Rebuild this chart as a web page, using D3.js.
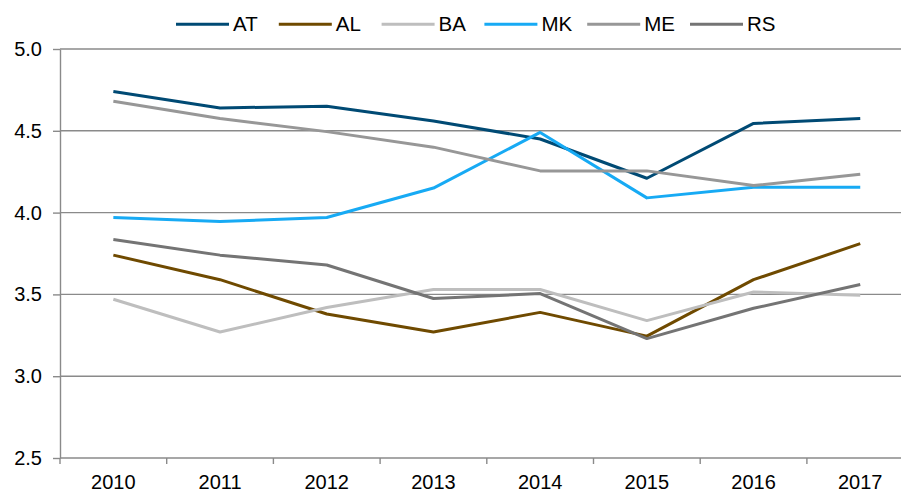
<!DOCTYPE html>
<html><head><meta charset="utf-8">
<script src="https://cdn.jsdelivr.net/npm/d3@7"></script>
<style>body{margin:0;background:#fff;}svg{display:block;font-family:Arial,"Liberation Sans",sans-serif;}</style>
</head><body><svg id="c" width="901" height="490"></svg>
<script>
const years = ["2010","2011","2012","2013","2014","2015","2016","2017"];
const seriesNames = ["AT","AL","BA","MK","ME","RS"];
const seriesColors = ["#004A74","#6F4A00","#BEBEBE","#17AAF4","#979797","#747474"];
const AT = [4.74,4.64,4.65,4.56,4.45,4.21,4.545,4.575];
const AL = [3.74,3.59,3.38,3.27,3.39,3.245,3.59,3.81];
const BA = [3.47,3.27,3.42,3.53,3.53,3.34,3.515,3.495];
const MK = [3.97,3.945,3.97,4.15,4.49,4.09,4.155,4.155];
const ME = [4.68,4.575,4.495,4.40,4.255,4.255,4.165,4.235];
const RS = [3.835,3.74,3.68,3.475,3.505,3.23,3.415,3.56];
const yTicks = [2.5,3.0,3.5,4.0,4.5,5.0];
const allValues = [AT,AL,BA,MK,ME,RS];

const svg = d3.select("#c");
const x = d3.scaleBand().domain(years).range([60, 913.6]);
const y = d3.scaleLinear().domain([2.5,5.0]).range([458,49]);
const gridColor = "#8a8a8a";
const font = "Arial, 'Liberation Sans', sans-serif";

// gridlines
svg.append("g").selectAll("line").data(yTicks).join("line")
  .attr("x1",60).attr("x2",901).attr("y1",d=>y(d)).attr("y2",d=>y(d))
  .attr("stroke",gridColor).attr("stroke-width",1.4);

// y axis
const yAxis = svg.append("g").attr("transform","translate(60,0)")
  .call(d3.axisLeft(y).tickValues(yTicks).tickFormat(d3.format(".1f")).tickSizeOuter(0).tickSizeInner(7).tickPadding(11));
yAxis.select(".domain").attr("stroke",gridColor).attr("stroke-width",1.4);
yAxis.selectAll(".tick line").attr("stroke",gridColor).attr("stroke-width",1.4);
yAxis.selectAll("text").attr("font-size","20px").attr("fill","#000").attr("font-family",font);

// x axis
const xAxis = svg.append("g").attr("transform","translate(0,458)")
  .call(d3.axisBottom(x).tickSize(0).tickPadding(16.5));
xAxis.select(".domain").remove();
xAxis.selectAll("text").attr("font-size","20px").attr("fill","#000").attr("font-family",font);
// boundary tick marks
const bounds = years.map(d=>x(d)).concat([x(years[years.length-1])+x.bandwidth()]);
svg.append("g").selectAll("line").data(bounds).join("line")
  .attr("x1",d=>d).attr("x2",d=>d).attr("y1",458).attr("y2",464)
  .attr("stroke",gridColor).attr("stroke-width",1.4);

// lines
const line = d3.line().x((d,i)=>x(years[i])+x.bandwidth()/2).y(d=>y(d));
svg.append("g").selectAll("path").data(allValues).join("path")
  .attr("d",d=>line(d)).attr("fill","none")
  .attr("stroke",(d,i)=>seriesColors[i]).attr("stroke-width",3).attr("stroke-linejoin","round");

// legend
const leg = svg.append("g").selectAll("g").data(seriesNames).join("g")
  .attr("transform",(d,i)=>`translate(${176+i*102.8},24.3)`);
leg.append("line").attr("x1",0).attr("x2",53).attr("y1",0).attr("y2",0)
  .attr("stroke",(d,i)=>seriesColors[i]).attr("stroke-width",3);
leg.append("text").attr("x",57).attr("y",0).attr("dy","0.35em").text(d=>d)
  .attr("font-size","20.5px").attr("fill","#000").attr("font-family",font);
</script></body></html>
